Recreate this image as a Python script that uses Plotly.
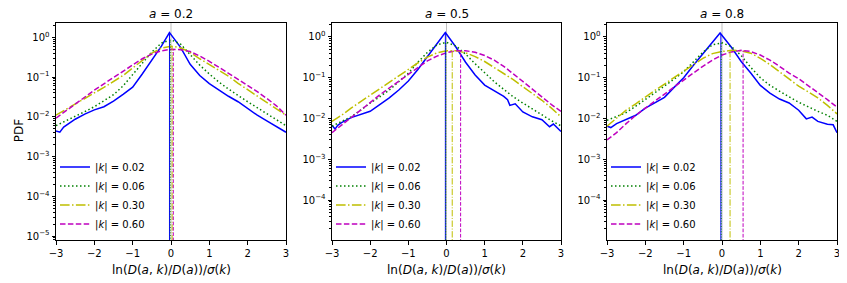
import numpy as np
import plotly.graph_objects as go

# ---------------- data ----------------
X = [-3.0, -2.75, -2.5, -2.25, -2.0, -1.75, -1.5, -1.25, -1.0, -0.75, -0.5, -0.25,
     0.0, 0.25, 0.5, 0.75, 1.0, 1.25, 1.5, 1.75, 2.0, 2.25, 2.5, 2.75, 3.0]

A_VALUES = ["0.2", "0.5", "0.8"]
K_LABELS = ["0.02", "0.06", "0.30", "0.60"]

# a = 0.2
A02_K002_X = [-3.0, -2.9, -2.8, -2.5, -2.25, -2.0, -1.75, -1.5, -1.25, -1.0, -0.75, -0.5, -0.25,
              -0.04, 0.25, 0.5, 0.75, 1.0, 1.25, 1.5, 1.75, 2.0, 2.25, 2.5, 2.75, 3.0]
A02_K002 = [0.0044, 0.0041, 0.0055, 0.0087, 0.0117, 0.015, 0.018, 0.025, 0.037, 0.056, 0.12, 0.27, 0.6,
            1.32, 0.56, 0.21, 0.11, 0.069, 0.047, 0.033, 0.024, 0.016, 0.011, 0.0079, 0.0058, 0.0041]
A02_K006 = [0.006, 0.0078, 0.010, 0.0135, 0.018, 0.025, 0.036, 0.06, 0.115, 0.22, 0.43, 0.72,
            0.87, 0.68, 0.38, 0.2, 0.12, 0.075, 0.05, 0.034, 0.024, 0.017, 0.012, 0.0085, 0.006]
A02_K030 = [0.011, 0.015, 0.021, 0.029, 0.04, 0.055, 0.079, 0.11, 0.17, 0.26, 0.4, 0.54,
            0.6, 0.55, 0.42, 0.29, 0.21, 0.15, 0.105, 0.07, 0.048, 0.033, 0.023, 0.016, 0.011]
A02_K060 = [0.0093, 0.014, 0.021, 0.031, 0.047, 0.068, 0.098, 0.14, 0.2, 0.29, 0.38, 0.46,
            0.5, 0.49, 0.44, 0.34, 0.25, 0.18, 0.125, 0.088, 0.062, 0.043, 0.029, 0.019, 0.011]
A02_MEANS = [-0.04, -0.02, 0.03, 0.06]

# a = 0.5
A05_K002_X = [-3.0, -2.92, -2.85, -2.75, -2.5, -2.25, -2.0, -1.75, -1.5, -1.25, -1.0, -0.75, -0.5,
              -0.25, -0.03, 0.25, 0.5, 0.75, 1.0, 1.25, 1.5, 1.6, 1.66, 1.8, 2.0, 2.25, 2.5, 2.7,
              2.8, 3.0]
A05_K002 = [0.0068, 0.0055, 0.0068, 0.0079, 0.0105, 0.0126, 0.015, 0.022, 0.032, 0.05, 0.083, 0.16,
            0.32, 0.68, 1.28, 0.56, 0.24, 0.117, 0.066, 0.048, 0.035, 0.029, 0.021, 0.023, 0.0145,
            0.011, 0.0093, 0.0063, 0.0073, 0.0048]
A05_K006 = [0.0065, 0.0085, 0.011, 0.016, 0.024, 0.034, 0.05, 0.08, 0.13, 0.24, 0.42, 0.64,
            0.74, 0.6, 0.38, 0.22, 0.13, 0.08, 0.052, 0.034, 0.024, 0.017, 0.012, 0.0088, 0.0066]
A05_K030 = [0.0085, 0.012, 0.018, 0.026, 0.038, 0.054, 0.077, 0.11, 0.16, 0.23, 0.32, 0.41,
            0.46, 0.46, 0.41, 0.33, 0.25, 0.18, 0.13, 0.09, 0.06, 0.041, 0.028, 0.018, 0.011]
A05_K060 = [0.0045, 0.007, 0.0105, 0.016, 0.025, 0.038, 0.056, 0.083, 0.12, 0.18, 0.26, 0.34,
            0.41, 0.46, 0.46, 0.42, 0.35, 0.27, 0.19, 0.125, 0.08, 0.052, 0.034, 0.022, 0.015]
A05_MEANS = [-0.03, -0.02, 0.15, 0.37]

# a = 0.8
A08_K002_X = [-3.0, -2.9, -2.75, -2.5, -2.25, -2.0, -1.75, -1.5, -1.25, -1.0, -0.75, -0.5, -0.25,
              -0.05, 0.25, 0.5, 0.75, 1.0, 1.25, 1.5, 1.75, 2.0, 2.2, 2.35, 2.5, 2.75, 2.9, 3.0]
A08_K002 = [0.0065, 0.006, 0.0075, 0.0093, 0.012, 0.018, 0.024, 0.033, 0.058, 0.1, 0.2, 0.38, 0.72,
            1.25, 0.55, 0.25, 0.13, 0.065, 0.042, 0.03, 0.024, 0.016, 0.0098, 0.0108, 0.0085,
            0.0072, 0.007, 0.0045]
A08_K006 = [0.009, 0.011, 0.014, 0.02, 0.029, 0.042, 0.061, 0.092, 0.14, 0.24, 0.42, 0.64,
            0.72, 0.58, 0.35, 0.18, 0.1, 0.065, 0.046, 0.034, 0.025, 0.019, 0.015, 0.012, 0.0085]
A08_K030 = [0.0065, 0.01, 0.016, 0.023, 0.034, 0.049, 0.07, 0.1, 0.145, 0.21, 0.3, 0.39,
            0.44, 0.47, 0.46, 0.4, 0.3, 0.21, 0.14, 0.095, 0.062, 0.045, 0.032, 0.021, 0.013]
A08_K060 = [0.003, 0.0045, 0.0075, 0.012, 0.018, 0.027, 0.04, 0.06, 0.09, 0.13, 0.19, 0.27,
            0.36, 0.43, 0.47, 0.44, 0.36, 0.27, 0.19, 0.13, 0.095, 0.065, 0.043, 0.029, 0.019]
A08_MEANS = [-0.03, -0.02, 0.21, 0.55]

PANELS = [
    [(A02_K002_X, A02_K002), (X, A02_K006), (X, A02_K030), (X, A02_K060)],
    [(A05_K002_X, A05_K002), (X, A05_K006), (X, A05_K030), (X, A05_K060)],
    [(A08_K002_X, A08_K002), (X, A08_K006), (X, A08_K030), (X, A08_K060)],
]
MEANS = [A02_MEANS, A05_MEANS, A08_MEANS]

# ---------------- styles / geometry ----------------
COLORS = ["#0000ff", "#008000", "#bfbf00", "#bf00bf"]
DASHES = ["solid", "1.5px,2.5px", "9.6px,2.4px,1.5px,2.4px", "5.5px,2.4px"]
VDASHES = ["solid", "1px,1.65px", "6.4px,1.6px,1px,1.6px", "3.7px,1.6px"]
OFF = 8.0                      # page body margin
W = 847.0 - OFF
H = 283.0 - OFF


def fx(px):
    return (px - OFF) / W


def fy(py):
    return 1 - (py - OFF) / H


X_DOMAINS = [[fx(56), fx(286)], [fx(332), fx(561)], [fx(607), fx(837)]]
Y_DOMAIN = [fy(240), fy(22.7)]
Y_RANGES = [[-5.1, 0.37], [-4.98, 0.35], [-4.98, 0.35]]
FONT = "DejaVu Sans"

fig = go.Figure()

for p in range(3):
    xa = "x" if p == 0 else f"x{p + 1}"
    ya = "y" if p == 0 else f"y{p + 1}"
    leg = "legend" if p == 0 else f"legend{p + 1}"
    for s in range(4):
        sx, sy = PANELS[p][s]
        fig.add_trace(go.Scatter(
            x=sx, y=sy, mode="lines", xaxis=xa, yaxis=ya,
            line=dict(color=COLORS[s], width=1.5, dash=DASHES[s]),
            name=f"|<i>k</i>| = {K_LABELS[s]}", legend=leg, showlegend=True,
        ))
    for s in range(4):
        sx, sy = PANELS[p][s]
        m = MEANS[p][s]
        top = 10 ** np.interp(m, sx, np.log10(sy))
        fig.add_trace(go.Scatter(
            x=[m, m], y=[1e-7, top], mode="lines", xaxis=xa, yaxis=ya,
            line=dict(color=COLORS[s], width=1, dash=VDASHES[s]),
            showlegend=False, hoverinfo="skip",
        ))
    fig.add_shape(type="line", xref=xa, yref=f"{ya} domain", x0=0, x1=0, y0=0, y1=1,
                  line=dict(color="#bfbfbf", width=1), layer="below")

major_exp = list(range(-5, 1))
major_vals = [10.0 ** e for e in major_exp]
major_text = [("10<sup>0</sup>" if e == 0 else f"10<sup>\u2212{-e}</sup>") for e in major_exp]
minor_vals = [m * 10.0 ** e for e in range(-6, 1) for m in range(2, 10)]

layout = dict(
    width=W, height=H,
    margin=dict(l=0, r=0, t=0, b=0, autoexpand=False),
    paper_bgcolor="white", plot_bgcolor="white",
    font=dict(family=FONT, size=10, color="black"),
)
for p in range(3):
    xk = "xaxis" if p == 0 else f"xaxis{p + 1}"
    yk = "yaxis" if p == 0 else f"yaxis{p + 1}"
    xa = "x" if p == 0 else f"x{p + 1}"
    ya = "y" if p == 0 else f"y{p + 1}"
    layout[xk] = dict(
        domain=X_DOMAINS[p], anchor=ya, range=[-3, 3], tickmode="array",
        tickvals=[-3, -2, -1, 0, 1, 2, 3], ticks="outside", ticklen=3.5, tickwidth=0.8,
        tickcolor="black", showline=True, linecolor="black", linewidth=1, mirror=True,
        showgrid=False, zeroline=False, automargin=False,
        tickfont=dict(family=FONT, size=10, color="black"),
    )
    lo, hi = Y_RANGES[p]
    vals = [v for v in major_vals if np.log10(v) >= lo - 1e-9]
    txt = [t for v, t in zip(major_vals, major_text) if np.log10(v) >= lo - 1e-9]
    layout[yk] = dict(
        domain=Y_DOMAIN, anchor=xa, type="log", range=[lo, hi], tickmode="array",
        tickvals=vals, ticktext=txt, ticks="outside", ticklen=3.5, tickwidth=0.8,
        tickcolor="black", showline=True, linecolor="black", linewidth=1, mirror=True,
        showgrid=False, zeroline=False, automargin=False,
        tickfont=dict(family=FONT, size=10, color="black"),
        minor=dict(tickmode="array", tickvals=minor_vals, ticks="outside", ticklen=2,
                   tickwidth=0.6, tickcolor="black", showgrid=False),
    )
    lk = "legend" if p == 0 else f"legend{p + 1}"
    panel_left_page = [56, 332, 607][p]
    layout[lk] = dict(
        x=fx(panel_left_page - 1), y=fy(152.5), xanchor="left", yanchor="top",
        bgcolor="rgba(0,0,0,0)", borderwidth=0,
        font=dict(family=FONT, size=10, color="black"),
    )

annotations = []
for p in range(3):
    xc = (X_DOMAINS[p][0] + X_DOMAINS[p][1]) / 2
    annotations.append(dict(
        text=f"<i>a</i> = {A_VALUES[p]}", x=xc, y=fy(14.1), xref="paper", yref="paper",
        xanchor="center", yanchor="middle", showarrow=False,
        font=dict(family=FONT, size=12, color="black"),
    ))
    annotations.append(dict(
        text="ln(<i>D</i>(<i>a</i>, <i>k</i>)/<i>D</i>(<i>a</i>))/<i>σ</i>(<i>k</i>)",
        x=xc, y=fy(269.8), xref="paper", yref="paper",
        xanchor="center", yanchor="middle", showarrow=False,
        font=dict(family=FONT, size=12, color="black"),
    ))
annotations.append(dict(
    text="PDF", x=fx(10), y=(Y_DOMAIN[0] + Y_DOMAIN[1]) / 2, xref="paper", yref="paper",
    xanchor="left", yanchor="middle", textangle=-90, showarrow=False,
    font=dict(family=FONT, size=12, color="black"),
))
layout["annotations"] = annotations

fig.update_layout(**layout)
fig.write_html("out.html")
